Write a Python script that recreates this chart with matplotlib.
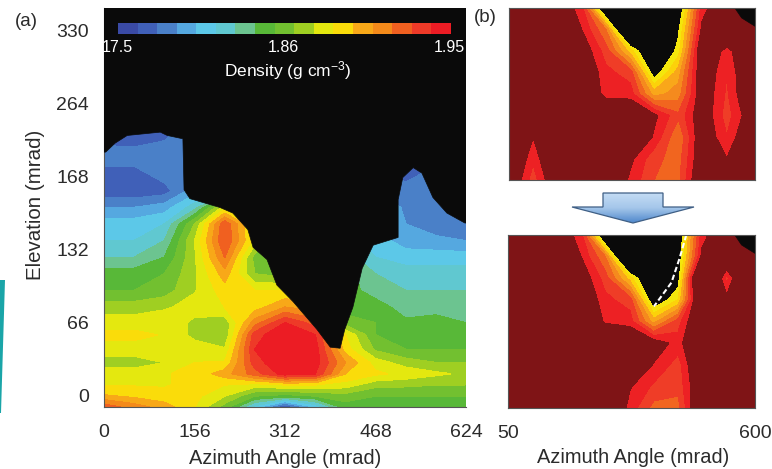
import numpy as np
import matplotlib
matplotlib.use("Agg")
import matplotlib.pyplot as plt
from matplotlib.colors import ListedColormap
from matplotlib.patches import Polygon

plt.rcParams['font.family'] = ['Liberation Sans', 'DejaVu Sans']
plt.rcParams['mathtext.default'] = 'regular'

W, H = 772, 469
TXT = '#2b2b2b'
BLACK = '#0a0a0a'

# ---------- panel (a) data: density class on a coarse grid ----------
a_x = [3, 52, 104, 156, 208, 260, 312, 364, 416, 468, 520, 572, 622]
a_y = [-10, 0, 10, 20, 30, 42, 55, 66, 80, 95, 110, 125, 140, 155, 170, 185, 200, 215, 230, 245]
r_m10 = [14, 13, 12, 10.5, 8, 4, 0, 3.5, 7, 7.5, 7.5, 7.5, 7.5]
r_000 = [11.6, 11.2, 10.8, 10.8, 9.5, 7.5, 7, 7.5, 8, 7.5, 7.5, 7.5, 7.5]
r_010 = [10.4, 10.4, 10.4, 10.8, 10.5, 10, 10.5, 10.5, 10, 8.8, 8.7, 8.5, 8.5]
r_020 = [10, 10, 10.4, 10.8, 12, 14, 16, 15.5, 11.5, 10.7, 10.2, 9.7, 9.3]
r_030 = [9, 9, 9.5, 10.5, 10.6, 15, 16.5, 16, 12.5, 10, 9, 8.5, 8.5]
r_042 = [10, 10, 10, 10, 9.6, 15.5, 16.5, 16, 11, 8.3, 7.5, 7.5, 7.5]
r_055 = [10.8, 10.8, 10.4, 9.2, 8.6, 15, 16.5, 15.5, 10.5, 7.5, 7.5, 7, 7]
r_066 = [10, 10, 10.4, 9.2, 8.8, 13, 15.5, 14, 8, 7.5, 6.7, 6.7, 6.5]
r_080 = [9, 9, 9.3, 10, 10.5, 11, 12.5, 12, 7, 7, 6, 6.3, 6]
r_095 = [7.5, 7.5, 8, 9.4, 11, 10.5, 10.5, 10, 7, 6, 5.5, 5.5, 5.5]
r_110 = [7, 7, 7.5, 9.3, 12, 8.5, 8, 8, 7, 5.5, 5, 5, 5]
r_125 = [5.5, 5.5, 6.5, 9.3, 13.5, 8, 7, 7, 6, 4.5, 4, 4, 4]
r_140 = [4.5, 4.5, 5.5, 9.5, 14.5, 10, 5, 5, 5, 4, 3, 2.8, 2.5]
r_155 = [4, 4, 4.5, 8.5, 14.3, 10, 5, 5, 5, 4, 2.5, 1.8, 1.5]
r_170 = [2.5, 2.5, 3, 5, 10, 5, 5, 5, 5, 4, 2.2, 1.8, 2]
r_185 = [0.7, 0.7, 1, 3, 3, 3, 3, 3, 3, 2, 2, 2, 2]
r_200 = [1, 1, 2, 2, 2, 2, 2, 2, 2, 2, 1, 2, 2]
r_215 = [2, 2, 2, 2, 2, 2, 2, 2, 2, 2, 1, 2, 2]
r_230 = [1.3, 1.2, 1.5, 2, 2, 2, 2, 2, 2, 2, 1, 2, 2]
r_245 = [1, 0.8, 0.5, 2, 2, 2, 2, 2, 2, 2, 1, 2, 2]
a_rows = [r_m10, r_000, r_010, r_020, r_030, r_042, r_055, r_066, r_080, r_095,
          r_110, r_125, r_140, r_155, r_170, r_185, r_200, r_215, r_230, r_245]

# upper edge of the measured region (black above it)
edge_x = [3, 19, 40, 97, 109, 136, 138, 148, 200, 222, 248, 257, 281, 298, 326, 367, 390,
          407, 415, 429, 445, 464, 507, 507, 515, 533, 548, 567, 591, 622]
edge_y = [220, 228, 235, 238, 235, 232, 186, 178, 170, 165, 150, 134, 123, 100, 85, 60, 44,
          43, 60, 80, 115, 136, 143, 177, 197, 206, 201, 179, 165, 156]

density_colors = ['#3a4aa5', '#4060b8', '#4a80c8', '#55a8e0', '#5cc8e8', '#60c8d0', '#6cc490',
                  '#58b838', '#72c030', '#9fcf22', '#e4e80f', '#fadc0a', '#f8a818', '#f48a1a',
                  '#f06020', '#ee3a28', '#ec1c24']
xticks_a = [0, 156, 312, 468, 624]
yticks_a = [0, 66, 132, 198, 264, 330]
yticklabels_a = ['0', '66', '132', '168', '264', '330']
cbar_labels = ['17.5', '1.86', '1.95']

# ---------- panel (b) data ----------
b_x = [50, 104, 158, 212, 266, 321, 374, 429, 482, 537, 600]
b_y = [0, 1, 2, 3, 4, 5, 6, 7, 8]
t0 = [9, 9, 8, 6.5, -3, -3, -3, -1.5, 6.5, 8.5, 9]
t1 = [9, 9, 9, 7, 4, -6, -3, -0.3, 7.3, 9, 9]
t2 = [9, 9, 9, 8, 5.5, 1.5, -3, 0.5, 8.5, 6.5, 9]
t3 = [9, 9, 9, 8.5, 6.3, 5.5, -1, 2.5, 8.2, 6, 9]
t4 = [9, 9, 9, 9, 6.5, 6.5, 2.5, 3.5, 8, 5.8, 9]
t5 = [9, 9, 9, 9, 9, 8.5, 7.3, 5.2, 8, 5.5, 8.2]
t6 = [9, 7, 9, 9, 9, 9, 6.8, 4, 8.2, 6, 9]
t7 = [9, 6.2, 9, 9, 9, 7.3, 5.3, 4.5, 8.2, 7, 9]
t8 = [8.5, 5.4, 8.5, 9, 9, 6.7, 5, 4.7, 8.7, 9, 9]
top_rows = [t0, t1, t2, t3, t4, t5, t6, t7, t8]

u0 = [9, 9, 8, 6.5, -3, -3, -3, -1.5, 6.5, 8.5, 9]
u1 = [9, 9, 9, 7, 4, -6, -3, -1.2, 7.3, 9, 9]
u2 = [9, 9, 9, 8, 5.5, 1.5, -3, -0.8, 12, 5.5, 12]
u3 = [9, 9, 9, 8.5, 6.3, 5.5, -1.5, 1, 10, 7.4, 9]
u4 = [9, 9, 9, 9, 6.8, 6.5, 2.5, 5.5, 9, 9, 9]
u5 = [9, 9, 9, 9, 9, 8.5, 7.8, 6.5, 9, 9, 9]
u6 = [9, 9, 9, 9, 9, 8.5, 6.9, 5.5, 9, 9, 9]
u7 = [9, 9, 9, 9, 9, 7.1, 5.8, 5.3, 8.5, 9, 9]
u8 = [9, 9, 9, 9, 9, 6.6, 4.6, 4.6, 9, 9, 9]
bottom_rows = [u0, u1, u2, u3, u4, u5, u6, u7, u8]

b_levels = [-20, 0, 1, 2, 3, 4, 5, 6, 7, 20]
b_colors = [BLACK, '#f4e60c', '#fcd20a', '#f9a71a', '#f58a1e', '#f1651f', '#ef3d27', '#ed2124', '#7f1416']
corner_x = [555, 570, 600, 600]
corner_y = [0, 0.46, 0.85, 0]
trace_x = [447, 432, 414, 375]
trace_y = [0, 1.08, 2.2, 3.3]
xticks_b = [50, 600]


def axes_px(x0, y0, x1, y1):
    return fig.add_axes([x0 / W, 1 - y1 / H, (x1 - x0) / W, (y1 - y0) / H])


fig = plt.figure(figsize=(W / 100, H / 100), dpi=100, facecolor='white')

# ---------- panel (a) ----------
ax = axes_px(104, 8, 466, 407)
ax.set_facecolor(BLACK)
a_levels = np.arange(-0.5, 17.5, 1)
cs = ax.contourf(a_x, a_y, np.array(a_rows), levels=a_levels,
                 colors=density_colors, extend='both')
cs.set_edgecolor('face')
cs.set_linewidth(0.4)
ax.fill(list(edge_x) + [628, 628, -4, -4], list(edge_y) + [156, 350, 350, 220],
        color=BLACK, lw=0.5, zorder=3)
ax.set_xlim(0, 624)
ax.set_ylim(-10, 350)
ax.set_xticks(xticks_a)
ax.set_yticks(yticks_a)
ax.set_yticklabels(yticklabels_a)
ax.tick_params(axis='both', labelsize=14, colors=TXT, length=0)
ax.tick_params(axis='y', pad=11)
ax.tick_params(axis='x', pad=12)
for s in ax.spines.values():
    s.set_color('#555555')
    s.set_linewidth(0.8)
ax.spines['top'].set_visible(False)
ax.spines['right'].set_visible(False)
fig.text(285 / W, 1 - 458 / H, 'Azimuth Angle (mrad)', fontsize=14.4, color=TXT, ha='center', va='center')
fig.text(36 / W, 1 - 205 / H, 'Elevation (mrad)', fontsize=14.8, color=TXT, ha='center', va='center', rotation=90)

# colour bar inside the panel
cax = axes_px(118, 23, 451, 34)
cax.imshow(np.arange(len(density_colors))[None, :], aspect='auto',
           cmap=ListedColormap(density_colors), interpolation='nearest')
cax.set_xticks([])
cax.set_yticks([])
for s in cax.spines.values():
    s.set_visible(False)
for px, lab in zip([117, 283, 449], cbar_labels):
    fig.text(px / W, 1 - 48 / H, lab, fontsize=11.5, color='white', ha='center', va='center')
fig.text(288 / W, 1 - 71 / H, r'Density (g cm$^{-3}$)', fontsize=12.5, color='white', ha='center', va='center')

# ---------- panel (b) ----------
for box, rows, show in [((509, 8, 755, 180), top_rows, False), ((508, 235, 755, 408), bottom_rows, True)]:
    bx = axes_px(*box)
    csb = bx.contourf(b_x, b_y, np.array(rows), levels=b_levels, colors=b_colors)
    csb.set_edgecolor('face')
    csb.set_linewidth(0.4)
    bx.fill(corner_x, corner_y, color=BLACK, lw=0.5)
    bx.set_xlim(50, 600)
    bx.set_ylim(8, 0)
    bx.set_yticks([])
    if show:
        bx.set_xticks(xticks_b)
        bx.tick_params(axis='x', labelsize=14, colors=TXT, length=0, pad=12)
        bx.plot(trace_x, trace_y, color='white', lw=1.5, ls=(0, (2.6, 1.4)))
    else:
        bx.set_xticks([])
    for s in bx.spines.values():
        s.set_color('#555555')
        s.set_linewidth(0.8)
fig.text(633 / W, 1 - 457 / H, 'Azimuth Angle (mrad)', fontsize=14.4, color=TXT, ha='center', va='center')

# ---------- annotations in pixel space ----------
ov = fig.add_axes([0, 0, 1, 1], facecolor='none')
ov.axis('off')
arrow = Polygon([(603, 193), (663, 193), (663, 207), (694, 207), (633, 223), (572, 207), (603, 207)],
                closed=True, fc='none', ec='#3f5f85', lw=0.9, zorder=3)
ov.add_patch(arrow)
grad = ov.imshow(np.linspace(0, 1, 64)[:, None], extent=(572, 694, 223, 193), aspect='auto', zorder=2,
                 cmap=matplotlib.colors.LinearSegmentedColormap.from_list('a', ['#c4dcf4', '#a4c6ea', '#4f88cc']))
grad.set_clip_path(arrow)
ov.set_xlim(0, W)
ov.set_ylim(H, 0)
ov.add_patch(Polygon([(0, 280), (5, 280), (1, 413), (0, 413)], closed=True, fc='#1aa5a8', ec='none'))
ov.text(26, 22, '(a)', fontsize=13.5, color=TXT, ha='center', va='center')
ov.text(485, 18, '(b)', fontsize=13.5, color=TXT, ha='center', va='center')

fig.savefig('out.png', dpi=100)
